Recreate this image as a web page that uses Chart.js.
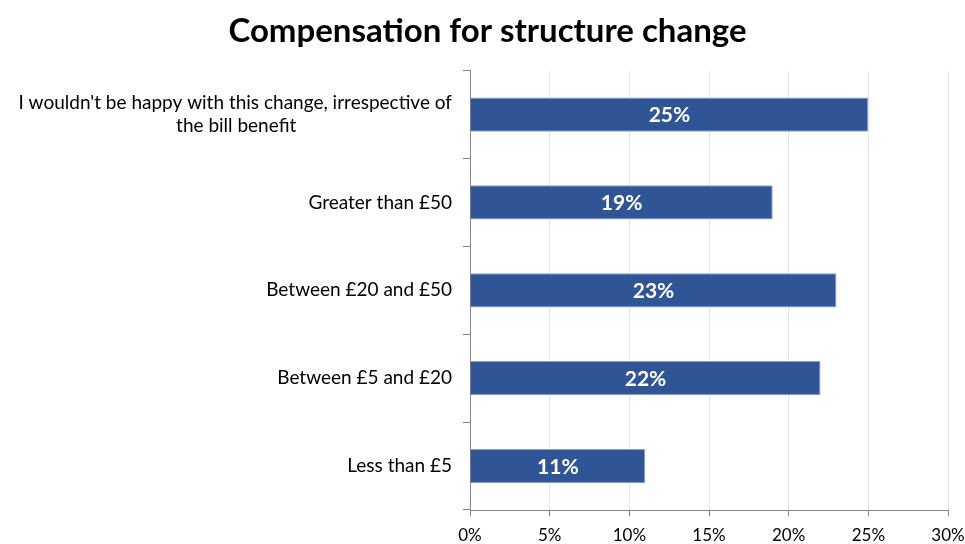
<!DOCTYPE html>
<html>
<head>
<meta charset="utf-8">
<title>Compensation for structure change</title>
<script src="https://cdn.jsdelivr.net/npm/chart.js@4/dist/chart.umd.min.js"></script>
<style>
    html, body { margin: 0; padding: 0; background: #ffffff; }
    #wrap { width: 965px; height: 544px; position: relative; }
</style>
</head>
<body>
<div id="wrap"><canvas id="compChart"></canvas></div>
<script>
// Survey answers, top to bottom
const categories = [
    ["I wouldn't be happy with this change, irrespective of", "the bill benefit"],
    "Greater than £50",
    "Between £20 and £50",
    "Between £5 and £20",
    "Less than £5"
];
const shares = [25, 19, 23, 22, 11];
const xTicks = [0, 5, 10, 15, 20, 25, 30];

const FONT = 'Lato, "Open Sans", sans-serif';
const labelFont = { family: FONT, size: 19 };
const tickFont = { family: FONT, size: 17 };

// centre the short second line of a wrapped label under the first one
// by padding it with spaces (the axis draws labels right-aligned)
function centreLines(lines) {
    if (!Array.isArray(lines)) return lines;
    const ctx = document.createElement('canvas').getContext('2d');
    ctx.font = labelFont.size + 'px ' + FONT;
    const widest = Math.max(...lines.map(l => ctx.measureText(l).width));
    const sp = ctx.measureText(' ').width;
    return lines.map(l => {
        const n = Math.round((widest - ctx.measureText(l).width) / 2 / sp);
        return l + ' '.repeat(n);
    });
}

// white value text in the middle of each bar
const barValues = {
    id: 'barValues',
    afterDatasetsDraw(chart) {
        const ctx = chart.ctx;
        ctx.save();
        ctx.fillStyle = '#ffffff';
        ctx.font = 'bold 21px ' + FONT;
        ctx.textAlign = 'center';
        ctx.textBaseline = 'middle';
        chart.getDatasetMeta(0).data.forEach((bar, i) => {
            const cx = (bar.x + bar.base) / 2;
            ctx.fillText(shares[i] + '%', cx, bar.y + 1);
        });
        ctx.restore();
    }
};

document.fonts.load('19px Lato').then(() => document.fonts.load('bold 33px Lato')).finally(draw);

function draw() {
    const ctx = document.getElementById('compChart').getContext('2d');
    new Chart(ctx, {
        type: 'bar',
        data: {
            labels: categories.map(centreLines),
            datasets: [{
                data: shares,
                backgroundColor: '#2F5597',
                borderColor: '#8da3c9',
                borderWidth: { top: 1, bottom: 1, right: 1, left: 0 },
                barPercentage: 0.39,
                categoryPercentage: 1
            }]
        },
        options: {
            indexAxis: 'y',
            responsive: true,
            maintainAspectRatio: false,
            animation: false,
            layout: { padding: { left: 10, right: 0, top: 0, bottom: 0 } },
            plugins: {
                legend: { display: false },
                tooltip: { enabled: false },
                title: {
                    display: true,
                    text: 'Compensation for structure change',
                    color: '#000000',
                    font: { family: FONT, size: 33, weight: 'bold' },
                    padding: { top: 12, bottom: 19 }
                }
            },
            scales: {
                x: {
                    min: 0,
                    max: 30,
                    afterBuildTicks: scale => {
                        scale.ticks = xTicks.map(v => ({ value: v }));
                    },
                    // fixed axis height, and only the half-width of "30%" kept on the right
                    afterFit: scale => {
                        scale.height = 34;
                        scale.paddingRight = 17;
                    },
                    ticks: {
                        color: '#000000',
                        font: tickFont,
                        padding: 9,
                        maxRotation: 0,
                        callback: v => v + '%'
                    },
                    grid: {
                        color: '#e6e6e6',
                        tickColor: '#868686',
                        tickLength: 6
                    },
                    border: { color: '#868686', width: 1 }
                },
                y: {
                    afterFit: scale => { scale.width = 460; },
                    ticks: {
                        color: '#000000',
                        font: labelFont,
                        padding: 11,
                        autoSkip: false
                    },
                    grid: {
                        drawOnChartArea: false,
                        color: '#868686',
                        tickLength: 7,
                        offset: true
                    },
                    border: { color: '#868686', width: 1 }
                }
            }
        },
        plugins: [barValues]
    });
}
</script>
</body>
</html>
